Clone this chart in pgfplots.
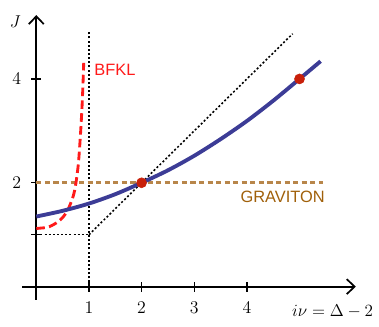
\documentclass[border=0pt]{standalone}
\usepackage{pgfplots}
\pgfplotsset{compat=1.18}
\usepackage{fontspec}
\newfontfamily\lab{Liberation Sans}
\usetikzlibrary{arrows.meta}

\definecolor{curveblue}{HTML}{3C3C96}
\definecolor{dotred}{HTML}{C8200A}
\definecolor{bfklred}{HTML}{FF1A1A}
\definecolor{gravline}{HTML}{B8864A}
\definecolor{gravtext}{HTML}{A0600A}

\begin{document}
\fontsize{12}{14}\selectfont
\begin{tikzpicture}[font=\fontsize{12}{14}\selectfont]
\begin{axis}[
    x=36.9pt, y=36.4pt,
    axis lines=middle,
    xmin=-0.27, xmax=6.07,
    ymin=-0.25, ymax=5.23,
    xtick={1,2,3,4},
    ytick={1,2,4}, yticklabels={,2,4},
    /pgf/number format/assume math mode=true,
    tick align=center,
    major tick length=7pt,
    tick style={black, line width=1pt},
    tick label style={font=\fontsize{12.5}{15}\selectfont},
    axis line style={line width=1.3pt},
    every inner x axis line/.append style={-{Straight Barb[length=5.5pt,width=10.5pt,line width=1.2pt]}},
    every inner y axis line/.append style={-{Straight Barb[length=5.5pt,width=10.5pt,line width=1.2pt]}},
    xticklabel style={yshift=-3pt},
    yticklabel style={xshift=-3pt},
    clip=false,
]
% dotted guide lines
\addplot[black, line width=1.1pt, dash pattern=on 1.4pt off 1.5pt] coordinates {(0,1) (1,1)};
\addplot[black, line width=1.1pt, dash pattern=on 1.4pt off 1.5pt] coordinates {(1,0) (1,4.9)};
\addplot[black, line width=1.1pt, dash pattern=on 1.4pt off 1.5pt] coordinates {(1,1) (4.87,4.87)};

% graviton
\addplot[gravline, line width=2pt, dash pattern=on 3.6pt off 2.4pt] coordinates {(0,2) (5.44,2)};

% BFKL
\addplot[bfklred, line width=2pt, dash pattern=on 6pt off 3pt, smooth] coordinates {
    (0,1.12) (0.2,1.14) (0.3,1.18) (0.4,1.24) (0.5,1.33) (0.6,1.48) (0.7,1.74)
    (0.75,1.98) (0.8,2.38) (0.84,2.95) (0.87,3.5) (0.89,4.0) (0.9,4.31)
};

% strong coupling curve
\addplot[curveblue, line width=2.7pt, smooth] coordinates {
    (0,1.35) (0.5,1.46) (1,1.6) (1.5,1.78) (2,2.0) (2.5,2.24) (3,2.52)
    (3.5,2.84) (4,3.19) (4.5,3.58) (5,4.0) (5.4,4.34)
};

% dots
\addplot[only marks, mark=*, mark size=3.5pt, dotred] coordinates {(2,2) (5,4)};

\node[anchor=west, text=bfklred, font=\lab\fontsize{11.5}{13}\selectfont] at (axis cs:0.99,4.17) {BFKL};
\node[text=gravtext, font=\lab\fontsize{11.5}{13}\selectfont] at (axis cs:4.68,1.73) {GRAVITON};
\node at (axis cs:-0.40,5.10) {$J$};
\node at (axis cs:5.63,-0.47) {$i\nu=\Delta-2$};

\coordinate (bl) at (axis cs:-0.69,-0.77);
\coordinate (tr) at (axis cs:6.51,5.52);
\end{axis}
\pgfresetboundingbox
\path (bl) rectangle (tr);
\end{tikzpicture}
\end{document}
